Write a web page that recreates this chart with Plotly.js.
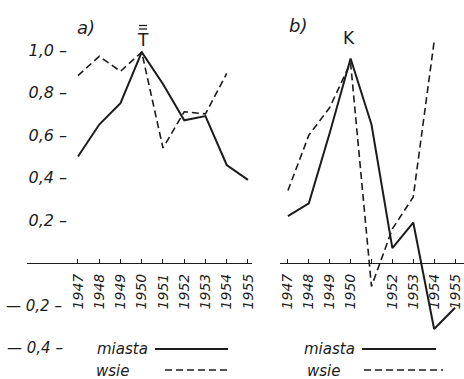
<!DOCTYPE html>
<html><head><meta charset="utf-8">
<script src="https://cdn.plot.ly/plotly-3.0.1.min.js"></script>
<style>html,body{margin:0;padding:0;background:#fff}#c{width:464px;height:379px}</style>
</head><body><div id="c"></div>
<script>
const years = [1947,1948,1949,1950,1951,1952,1953,1954,1955];
const yearLabelsA = ["1947","1948","1949","1950","1951","1952","1953","1954","1955"];
const yearLabelsB = ["1947","1948","1949","1950","","1952","1953","1954","1955"];
// panel a) T
const aMiasta = [0.50,0.65,0.75,0.99,0.84,0.67,0.69,0.46,0.39];
const aWsie   = [0.88,0.97,0.90,0.99,0.54,0.71,0.70,0.89,null];
// panel b) K
const bMiasta = [0.22,0.28,0.61,0.96,0.65,0.07,0.19,-0.31,-0.21];
const bWsie   = [0.34,0.60,0.73,0.94,-0.11,0.16,0.31,1.04,null];
const posTicks = [0.2,0.4,0.6,0.8,1.0];
const posText = ["0,2 –","0,4 –","0,6 –","0,8 –","1,0 –"];
const negTicks = [-0.2,-0.4];
const negText = ["— 0,2 –","— 0,4 –"];

const ink = '#1c1c1c';
const FONT = 'DejaVu Sans';
function tr(x, y, xa, dash) {
  return {x:x, y:y, xaxis:xa, yaxis:'y', type:'scatter', mode:'lines',
    connectgaps:false, hoverinfo:'skip',
    line:{color:ink, width: dash ? 1.6 : 2, dash: dash ? '7px,4px' : 'solid'}};
}
const data = [
  tr(years, aMiasta, 'x', false),
  tr(years, aWsie, 'x', true),
  tr(years, bMiasta, 'x2', false),
  tr(years, bWsie, 'x2', true)
];
const W = 464, H = 379;
const yRange = [-0.5446, 1.2347];
const xPos = (379-263)/379;
function xa(dom, range, labels) {
  return {domain:dom, range:range, anchor:'free', position:xPos,
    showline:true, linecolor:ink, linewidth:1.2, showgrid:false, zeroline:false,
    tickmode:'array', tickvals:years, ticktext:labels, tickangle:-90,
    ticks:'inside', ticklen:4, tickcolor:ink, tickwidth:1, ticklabelstandoff:4,
    tickfont:{family:FONT, size:14, color:ink, style:'italic'},
    automargin:false, fixedrange:true};
}
function txt(t, px, py, size, italic, xanchor) {
  return {text:t, x:px/W, y:1-py/H, xref:'paper', yref:'paper', showarrow:false,
    xanchor:xanchor||'center', yanchor:'middle',
    font:{family:FONT, size:size, color:ink, style: italic ? 'italic' : 'normal'}};
}
const annotations = [
  txt('a)', 86, 27, 18, true),
  txt('T', 143, 40, 17, false),
  txt('b)', 298, 26, 18, true),
  txt('K', 349, 38, 17, false),
  txt('miasta', 150, 349, 15, true, 'right'),
  txt('wsie', 131, 371, 15, true, 'right'),
  txt('miasta', 357, 349, 15, true, 'right'),
  txt('wsie', 342, 371, 15, true, 'right')
];
negTicks.forEach((v, i) => annotations.push({
  text:negText[i], x:(i === 0 ? 4 : 5)/W, y:v, xref:'paper', yref:'y', showarrow:false,
  xanchor:'left', yanchor:'middle',
  font:{family:FONT, size:15, color:ink, style:'italic'}}));
const layout = {
  width:W, height:H, margin:{l:0,r:0,t:0,b:0},
  paper_bgcolor:'#fff', plot_bgcolor:'#fff', showlegend:false,
  xaxis: xa([27/W, 252/W], [1944.6, 1955.19], yearLabelsA),
  xaxis2: xa([280/W, 1], [1946.62, 1955.43], yearLabelsB),
  yaxis: {domain:[0,1], range:yRange, anchor:'free', position:67/W,
    showline:false, showgrid:false, zeroline:false, ticks:'',
    tickmode:'array', tickvals:posTicks, ticktext:posText,
    tickfont:{family:FONT, size:16, color:ink, style:'italic'}, automargin:false, fixedrange:true},
  annotations: annotations,
  shapes: [
    {type:'line', xref:'paper', yref:'paper', x0:139/W, x1:147/W, y0:1-25.5/H, y1:1-25.5/H, line:{color:ink,width:1.3}},
    {type:'line', xref:'paper', yref:'paper', x0:139/W, x1:147/W, y0:1-29/H, y1:1-29/H, line:{color:ink,width:1.3}},
    {type:'line', xref:'paper', yref:'paper', x0:155/W, x1:228/W, y0:1-349/H, y1:1-349/H, line:{color:ink,width:2}},
    {type:'line', xref:'paper', yref:'paper', x0:165/W, x1:230/W, y0:1-370/H, y1:1-370/H, line:{color:ink,width:1.6,dash:'7px,4px'}},
    {type:'line', xref:'paper', yref:'paper', x0:362/W, x1:436/W, y0:1-349/H, y1:1-349/H, line:{color:ink,width:2}},
    {type:'line', xref:'paper', yref:'paper', x0:364/W, x1:443/W, y0:1-370/H, y1:1-370/H, line:{color:ink,width:1.6,dash:'7px,4px'}}
  ]
};
Plotly.newPlot('c', data, layout, {staticPlot:true, displayModeBar:false});
</script></body></html>
